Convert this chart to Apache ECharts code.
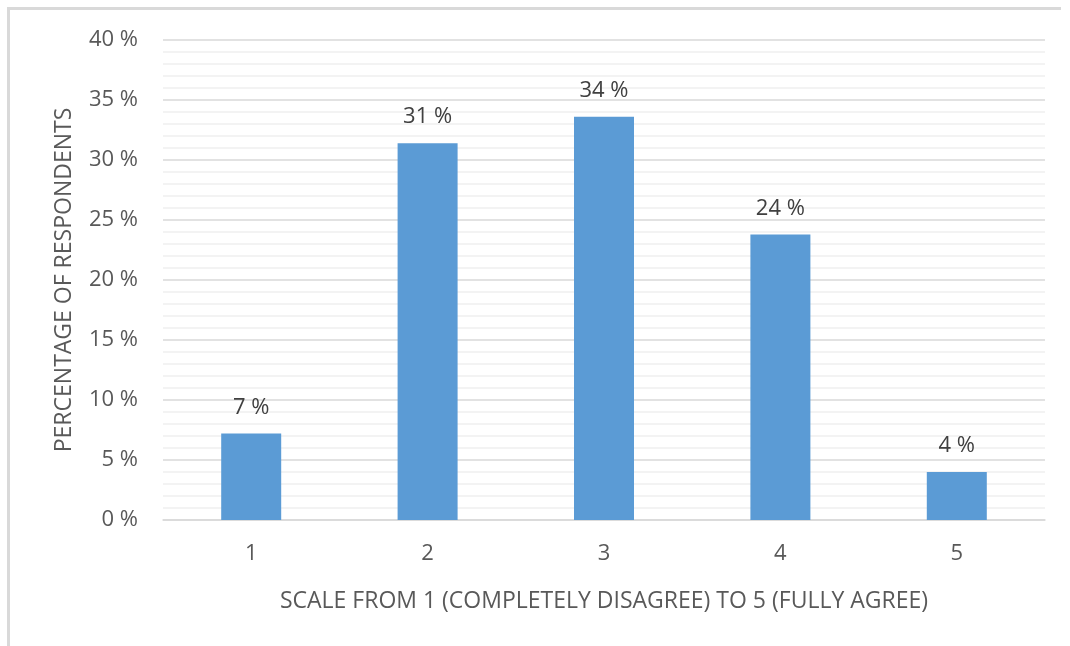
<!DOCTYPE html>
<html>
<head>
<meta charset="utf-8">
<script src="https://cdn.jsdelivr.net/npm/echarts@6/dist/echarts.min.js"></script>
<style>
  html, body { margin: 0; padding: 0; background: #fff; }
  #chart { width: 1070px; height: 646px; }
</style>
</head>
<body>
<div id="chart"></div>
<script>
// Survey responses on a 1–5 agreement scale
const categories = ['1', '2', '3', '4', '5'];
const shares = [7.2, 31.4, 33.6, 23.8, 4.0];   // percent of respondents
const yTicks = [0, 5, 10, 15, 20, 25, 30, 35, 40];

const FONT = '"Open Sans", "Noto Sans", sans-serif';
const chart = echarts.init(document.getElementById('chart'));

chart.setOption({
  backgroundColor: '#ffffff',
  animation: false,
  grid: { left: 163, right: 25, top: 40, bottom: 126 },
  // open frame: top and left edges only
  graphic: [
    { type: 'rect', shape: { x: 7, y: 7, width: 1054, height: 3 }, style: { fill: '#d9d9d9' }, silent: true },
    { type: 'rect', shape: { x: 7, y: 7, width: 3, height: 640 }, style: { fill: '#d9d9d9' }, silent: true }
  ],
  xAxis: {
    type: 'category',
    data: categories,
    name: 'SCALE FROM 1 (COMPLETELY DISAGREE) TO 5 (FULLY AGREE)',
    nameLocation: 'middle',
    nameGap: 70,
    nameTextStyle: { color: '#595959', fontSize: 23, fontFamily: FONT },
    axisLine: { lineStyle: { color: '#d9d9d9', width: 1.5 } },
    axisTick: { show: false },
    axisLabel: { color: '#595959', fontSize: 22, fontFamily: FONT, margin: 23 }
  },
  yAxis: {
    type: 'value',
    min: yTicks[0],
    max: yTicks[yTicks.length - 1],
    interval: 5,
    name: 'PERCENTAGE OF RESPONDENTS',
    nameLocation: 'middle',
    nameGap: 87,
    nameTextStyle: { color: '#595959', fontSize: 23, fontFamily: FONT },
    axisLine: { show: false },
    axisTick: { show: false },
    axisLabel: {
      color: '#595959', fontSize: 22, fontFamily: FONT, margin: 25,
      formatter: v => v + ' %'
    },
    splitLine: { lineStyle: { color: '#d9d9d9', width: 1.5 } },
    minorTick: { show: false, splitNumber: 5 },
    minorSplitLine: { show: true, lineStyle: { color: '#f0f0f0', width: 1.5 } }
  },
  series: [{
    type: 'bar',
    data: shares,
    barWidth: 60,
    itemStyle: { color: '#5b9bd5' },
    label: {
      show: true,
      position: 'top',
      distance: 15,
      color: '#404040',
      fontSize: 22,
      fontFamily: FONT,
      formatter: p => Math.round(p.value) + ' %'
    }
  }]
});
</script>
</body>
</html>
